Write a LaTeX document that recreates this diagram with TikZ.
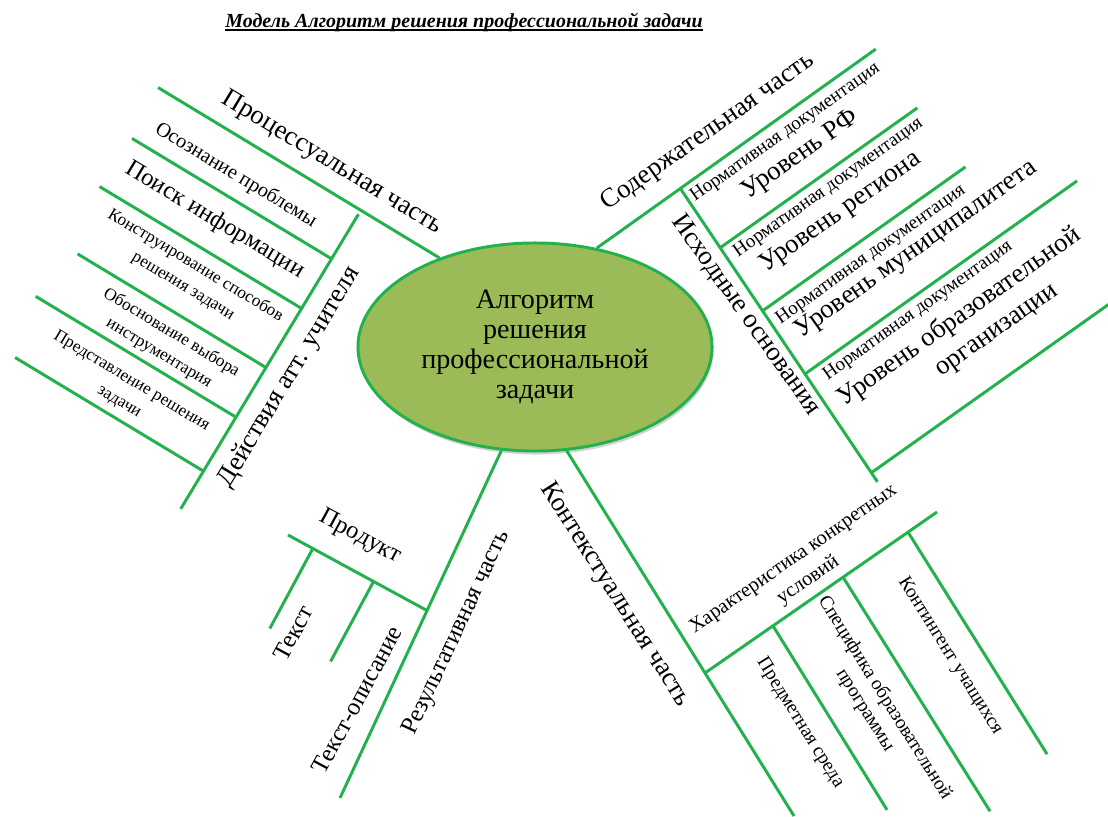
\documentclass[tikz,border=0pt]{standalone}
\usepackage{fontspec}
\setmainfont{Liberation Serif}
\usetikzlibrary{shapes.geometric, shadows, calc}
\definecolor{lgreen}{RGB}{34,177,76}
\definecolor{algfill}{RGB}{155,187,89}
\newcommand{\thickul}[1]{\setbox0=\hbox{#1}\rlap{\rule[-3pt]{\wd0}{1.3pt}}\box0}

\begin{document}
\begin{tikzpicture}[x=0.025cm, y=0.025cm]
\tikzstyle{branch} = [draw=lgreen, line width=2.1pt]
\tikzstyle{bigtext} = [font=\fontsize{19}{22}\selectfont, inner sep=0pt]
\tikzstyle{midtext} = [font=\fontsize{17.5}{20}\selectfont, inner sep=0pt]
\tikzstyle{smalltext} = [font=\fontsize{14.5}{18.5}\selectfont, align=center, inner sep=0pt]
\tikzstyle{tinytext} = [font=\fontsize{12.3}{17}\selectfont, align=center, inner sep=0pt]
\tikzstyle{normtext} = [font=\fontsize{13.6}{15}\selectfont, inner sep=0pt]
\tikzstyle{sidetext} = [font=\fontsize{13.8}{16.5}\selectfont, align=center, inner sep=0pt]

\useasboundingbox (0,0) rectangle (1108,816);

%title
\node (title) at (464,794) {\fontsize{14.2}{17}\selectfont\bfseries\itshape\thickul{Модель Алгоритм решения профессиональной задачи}};

%center
\node (alg) [ellipse, draw=lgreen, line width=2.1pt, fill=algfill, minimum width=8.85cm, minimum height=5.2cm, align=center, font=\fontsize{20}{21.5}\selectfont, drop shadow={shadow xshift=1pt, shadow yshift=-2.5pt, opacity=0.35}] at (535,469) {Алгоритм\\решения\\профессиональной\\задачи};

%process part
\begin{scope}[shift={(361,606)}, rotate=-31.1, transform shape]
\coordinate (proc0) at (-237,0);
\coordinate (act0) at (0,-5);
\coordinate (act1) at (0,-349);
\draw [branch] (proc0) -- (alg.137);
\draw [branch] (act0) -- (act1);
\foreach \idx/\dist/\len in {1/57/233, 2/115/236, 3/184/220, 4/242/234, 5/305/220} {
  \coordinate (act\idx a) at (-\len,-\dist);
  \coordinate (act\idx b) at (0,-\dist);
  \draw [branch] (act\idx a) -- (act\idx b);
}
\node [bigtext] (proclab) at (-49,25) {Процессуальная часть};
\node [smalltext] (osoz) at (-125,-35) {Осознание проблемы};
\node [midtext] (poisk) at (-120,-84) {Поиск информации};
\node [tinytext] (konstr) at (-113,-145) {Конструирование способов\\решения задачи};
\node [tinytext] (obosn) at (-99,-215) {Обоснование выбора\\инструментария};
\node [tinytext] (predst) at (-108,-277) {Представление решения\\задачи};
\node [bigtext, rotate=90] (actlab) at (25,-180) {Действия атт. учителя};
\end{scope}

%content part
\begin{scope}[shift={(680,628)}, rotate=35.36, transform shape]
\coordinate (sod1) at (240,0);
\coordinate (ish0) at (0,0);
\coordinate (ish1) at (-9,-354);
\draw [branch] (alg.58) -- (sod1);
\draw [branch] (ish0) -- (ish1);
\foreach \idx/\dist/\st/\len in {1/72/-2/240, 2/148/-4/245, 3/224/-6/328, 4/343/-9/282} {
  \coordinate (lvl\idx a) at (\st,-\dist);
  \coordinate (lvl\idx b) at (\len,-\dist);
  \draw [branch] (lvl\idx a) -- (lvl\idx b);
}
\node [bigtext] (sodlab) at (55,29) {Содержательная часть};
\node [bigtext, rotate=-90] (ishlab) at (-20,-142) {Исходные основания};
\foreach \idx/\pos/\dist in {1/118/16, 2/121/86, 3/117/165, 4/123/238}
  \node [normtext] (norm\idx) at (\pos,-\dist) {Нормативная документация};
\node [bigtext] (lvlrf) at (117,-43) {Уровень РФ};
\node [bigtext] (lvlreg) at (117,-113) {Уровень региона};
\node [bigtext] (lvlmun) at (157,-187) {Уровень муниципалитета};
\node [bigtext] (lvledu) at (153,-267) {Уровень образовательной};
\node [bigtext] (lvlorg) at (176,-302) {организации};
\end{scope}

%result part
\coordinate (res1) at (426,206);
\coordinate (res2) at (340,18);
\coordinate (prod1) at (288,281);
\coordinate (tx0) at ($(res1)!0.82!(prod1)$);
\coordinate (tx1) at ($(tx0)+(-43,-80)$);
\coordinate (td0) at ($(res1)!0.38!(prod1)$);
\coordinate (td1) at ($(td0)+(-43,-80)$);
\draw [branch] (alg.252) -- (res2);
\draw [branch] (res1) -- (prod1);
\draw [branch] (tx0) -- (tx1);
\draw [branch] (td0) -- (td1);
\node [midtext, rotate=65] (reslab) at (457,183) {Результативная часть};
\node [midtext, rotate=-28.5] (prodlab) at (360,279) {Продукт};
\node [midtext, rotate=61.5] (txlab) at (293,183) {Текст};
\node [midtext, rotate=61.5] (tdlab) at (357,116) {Текст-описание};

%context part
\coordinate (ctx1) at (705,143);
\coordinate (ctx2) at (794,0);
\coordinate (char1) at (937,304);
\draw [branch] (alg.287) -- (ctx2);
\draw [branch] (ctx1) -- (char1);
\foreach \idx/\frac/\dx/\dy in {1/0.293/114/-184, 2/0.595/147/-234, 3/0.875/139/-222} {
  \coordinate (cond\idx a) at ($(ctx1)!\frac!(char1)$);
  \coordinate (cond\idx b) at ($(cond\idx a)+(\dx,\dy)$);
  \draw [branch] (cond\idx a) -- (cond\idx b);
}
\node [bigtext, rotate=-57.7] (ctxlab) at (615,221) {Контекстуальная часть};
\node [smalltext, rotate=34.75] (charlab) at (801,246) {Характеристика конкретных\\условий};
\node [sidetext, rotate=-58] (predm) at (800,93) {Предметная среда};
\node [sidetext, rotate=-58] (spec) at (875,112) {Специфика образовательной\\программы};
\node [sidetext, rotate=-58] (kont) at (950,160) {Контингент учащихся};
\end{tikzpicture}
\end{document}
